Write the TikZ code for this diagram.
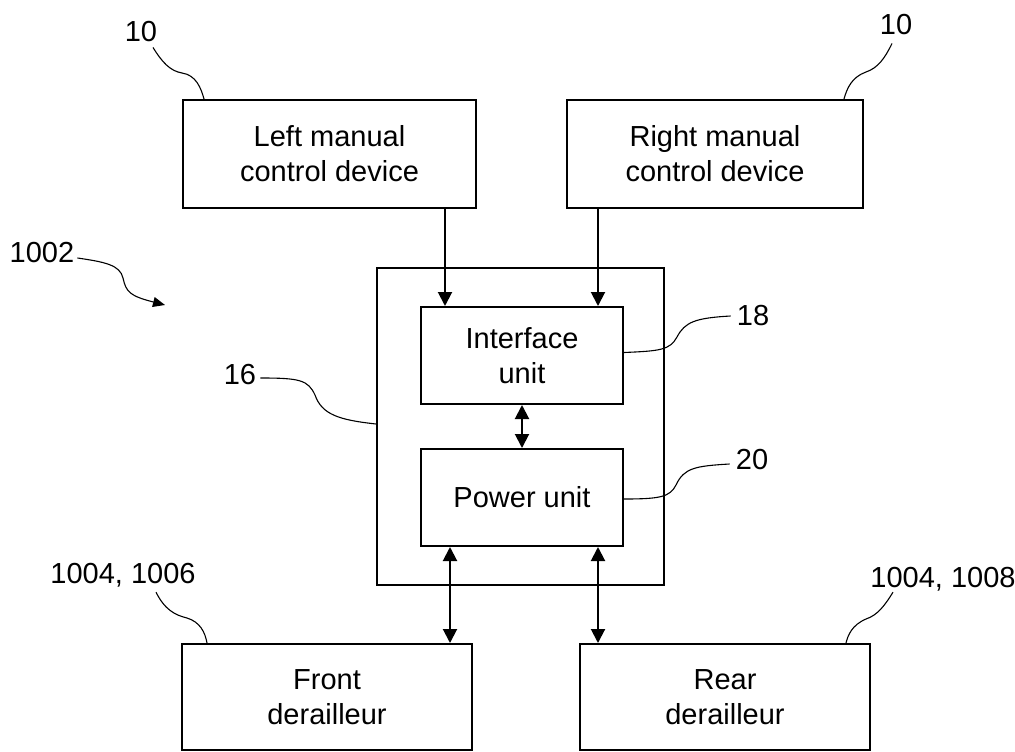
\documentclass[tikz,border=0pt]{standalone}
\usepackage{fontspec}
\setmainfont{Liberation Sans}
\usepackage{tikz}
\usetikzlibrary{arrows.meta, positioning, calc}

\begin{document}
\begin{tikzpicture}[x=1pt, y=-1pt,
    unitbox/.style={draw, line width=2pt, align=center, inner sep=0pt,
      font=\fontsize{29}{35}\selectfont},
    feed/.style={line width=2pt, -{Triangle[length=14pt, width=14pt]}},
    duplex/.style={line width=2pt, {Triangle[length=14pt, width=14pt]}-{Triangle[length=14pt, width=14pt]}},
    refnum/.style={inner sep=2pt, font=\fontsize{29}{34}\selectfont},
    lead/.style={line width=1.1pt}]
  \useasboundingbox (0,0) rectangle (1015,752);

  % Manual control devices
  \node[unitbox, minimum width=293pt, minimum height=108pt] (left) at (329.5,154) {Left manual\\control device};
  \node[unitbox, minimum width=296pt, minimum height=108pt] (right) at (715,154) {Right manual\\control device};

  % Hub 16 with its two units
  \node[draw, line width=2pt, minimum width=287pt, minimum height=317pt] (hub) at (520.5,426.5) {};
  \node[unitbox, minimum width=202pt, minimum height=97pt] (iface) at (522,355.5) {Interface\\unit};
  \node[unitbox, minimum width=202pt, minimum height=97pt] (power) at (522,497.5) {Power unit};

  % Derailleurs
  \node[unitbox, minimum width=290pt, minimum height=106pt] (front) at (327,697) {Front\\derailleur};
  \node[unitbox, minimum width=290pt, minimum height=106pt] (rear) at (725,697) {Rear\\derailleur};

  % Connectors
  \coordinate (tapL) at (445,0);
  \coordinate (tapR) at (598,0);
  \coordinate (tapF) at (450,0);
  \draw[feed] (left.south -| tapL) -- (iface.north -| tapL);
  \draw[feed] (right.south -| tapR) -- (iface.north -| tapR);
  \draw[duplex] (iface.south) -- (power.north);
  \draw[duplex] (power.south -| tapF) -- (front.north -| tapF);
  \draw[duplex] (power.south -| tapR) -- (rear.north -| tapR);

  % Reference numerals
  \node[refnum] (num10a) at (141,32) {10};
  \node[refnum] (num10b) at (896,25) {10};
  \node[refnum] (num1002) at (42,253) {1002};
  \node[refnum] (num16) at (240,375) {16};
  \node[refnum] (num18) at (753,316) {18};
  \node[refnum] (num20) at (752,460) {20};
  \node[refnum] (num1006) at (123,575) {1004, 1006};
  \node[refnum] (num1008) at (943,579) {1004, 1008};

  % Leader lines
  \draw[lead] ($(num10a.south)+(12,3)$) .. controls (162,62) and (170,71) .. (182,73)
    .. controls (196,75) and (201,88) .. ($(left.north west)+(22,0)$);
  \draw[lead] ($(num10b.south)+(-4,6)$) .. controls (885,58) and (878,68) .. (866,72)
    .. controls (852,77) and (847,88) .. ($(right.north east)+(-20,0)$);
  \draw[lead, -{Triangle[length=12pt, width=10pt]}] ($(num1002.east)+(1,5)$)
    .. controls (105,262) and (120,265) .. (123,278)
    .. controls (126,292) and (130,296) .. (165,305);
  \draw[lead] ($(num16.east)+(2,3)$) .. controls (300,378) and (308,380) .. (315,395)
    .. controls (322,415) and (340,420) .. (hub.west |- 0,424);
  \draw[lead] ([yshift=3pt]iface.east) .. controls (660,351) and (670,350) .. (677,337)
    .. controls (685,322) and (695,318) .. ($(num18.west)+(-4,0)$);
  \draw[lead] ([yshift=-1.5pt]power.east) .. controls (660,499) and (670,497) .. (676,485)
    .. controls (684,468) and (695,466) .. ($(num20.west)+(-4,4)$);
  \draw[lead] ($(num1006.south)+(33,3)$) .. controls (165,610) and (175,615) .. (187,618)
    .. controls (200,622) and (205,632) .. ($(front.north west)+(26,0)$);
  \draw[lead] ($(num1008.south)+(-50,-1)$) .. controls (885,605) and (878,615) .. (866,619)
    .. controls (852,625) and (848,635) .. ($(rear.north east)+(-25,0)$);
\end{tikzpicture}
\end{document}
